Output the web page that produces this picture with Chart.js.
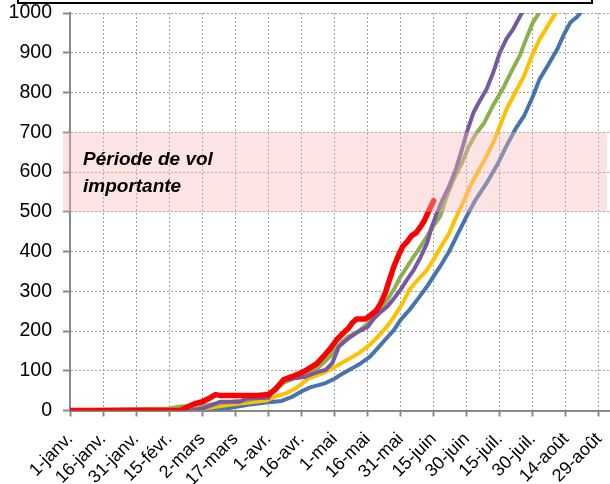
<!DOCTYPE html>
<html><head><meta charset="utf-8">
<script src="https://cdn.jsdelivr.net/npm/chart.js@4"></script>
<style>html,body{margin:0;padding:0;background:#fff}</style>
</head><body>
<canvas id="c" width="610" height="484"></canvas>
<script>
// X axis: day of year (0 = 1-janv.)
const tickDays = [0,15,30,45,60,75,90,105,120,135,150,165,180,195,210,225,240];
const tickLabels = ['1-janv.','16-janv.','31-janv.','15-févr.','2-mars','17-mars','1-avr.','16-avr.','1-mai','16-mai','31-mai','15-juin','30-juin','15-juil.','30-juil.','14-août','29-août'];
const yTicks = [0,100,200,300,400,500,600,700,800,900,1000];

// Band "Période de vol importante"
const bandFrom = 500, bandTo = 700;
const bandText = ['Période de vol', 'importante'];

// Series (day, cumulative value)
const redDays = [0,50,53,57,60,63,66,68,75,85,90,93,97,101,105,108,112,115,118,121,124,126,128,130,134,136,139,141,143,145,147,149,151,153,155,157,159,161,163,165];
const redVals = [0,0,8,18,22,30,40,38,38,38,40,52,78,86,95,104,118,136,155,178,195,205,220,230,230,238,252,270,295,330,363,390,413,425,440,447,462,480,505,528];

const purpleDays = [0,55,60,65,68,77,80,90,93,96,98,103,107,110,113,116,119,122,126,131,135,138,141,144,147,150,153,156,159,162,164,166,169,172,175,178,180,183,186,189,192,195,198,201,204,206];
const purpleVals = [0,0,5,15,22,22,30,32,56,70,77,82,85,92,98,102,119,161,180,199,210,232,248,262,282,304,330,354,385,421,460,490,530,564,606,660,699,749,780,808,850,900,935,959,990,1010];

const greenDays = [0,15,30,45,50,60,70,80,88,92,97,102,107,113,118,122,126,131,135,138,141,144,147,150,153,156,159,162,165,168,171,174,178,181,184,188,192,197,200,204,207,210,214];
const greenVals = [0,2,4,5,10,12,20,25,35,45,70,82,90,110,136,165,185,200,218,235,258,279,305,337,362,388,412,438,465,489,540,581,625,665,695,724,768,816,850,892,935,976,1010];

const yellowDays = [0,55,63,75,89,93,98,103,108,114,119,125,131,136,140,144,147,151,154,158,162,165,168,172,175,179,182,185,189,192,195,198,202,206,209,213,217,221];
const yellowVals = [0,0,7,16,25,35,43,58,80,92,106,125,144,165,188,212,236,270,304,330,354,380,409,445,484,531,570,600,640,673,715,757,800,841,885,933,970,1005];

const blueDays = [0,65,71,80,89,96,101,105,109,116,120,124,128,132,136,139,143,147,150,154,158,162,165,168,172,176,180,184,189,194,198,202,206,210,213,217,221,224,227,230,233];
const blueVals = [0,0,5,14,20,24,35,48,58,69,80,94,106,119,135,153,178,203,228,253,282,312,338,363,400,445,489,530,572,620,665,707,741,790,833,870,908,945,976,990,1010];

const pts = (d, v) => d.map((x, i) => ({x: x, y: v[i]}));

const overlay = {
  id: 'overlay',
  afterDatasetsDraw(chart) {
    const {ctx, chartArea, scales} = chart;
    const y1 = scales.y.getPixelForValue(bandTo), y2 = scales.y.getPixelForValue(bandFrom);
    ctx.save();
    ctx.fillStyle = 'rgba(250,185,185,0.38)';
    ctx.fillRect(chartArea.left - 7, y1, chartArea.right - 3 - (chartArea.left - 7), y2 - y1);
    ctx.fillStyle = '#000';
    ctx.font = 'italic bold 19px "Liberation Sans"';
    ctx.textBaseline = 'alphabetic';
    ctx.fillText(bandText[0], 83, 165);
    ctx.fillText(bandText[1], 83, 192);
    ctx.restore();
  },
  afterDraw(chart) {
    const ctx = chart.ctx;
    ctx.save();
    ctx.strokeStyle = '#000';
    ctx.lineWidth = 2;
    ctx.strokeRect(18, -20, 574, 23);
    ctx.restore();
  }
};

const gridCommon = {color: '#a0a0a0', lineWidth: 1, tickColor: '#8a8a8a', tickWidth: 2};
const borderCommon = {color: '#8a8a8a', width: 2, dash: [2, 2]};

new Chart(document.getElementById('c'), {
  type: 'line',
  data: {
    datasets: [
      {data: pts(redDays, redVals), borderColor: '#FF0000', borderWidth: 5.5},
      {data: pts(purpleDays, purpleVals), borderColor: '#7659A0', borderWidth: 4},
      {data: pts(greenDays, greenVals), borderColor: '#8DB04F', borderWidth: 4},
      {data: pts(yellowDays, yellowVals), borderColor: '#FFC000', borderWidth: 4},
      {data: pts(blueDays, blueVals), borderColor: '#4674AE', borderWidth: 4}
    ]
  },
  options: {
    responsive: false,
    animation: false,
    layout: {padding: {top: 13, left: 0, right: 0, bottom: 0}},
    plugins: {legend: {display: false}, tooltip: {enabled: false}},
    elements: {
      point: {radius: 0},
      line: {tension: 0, borderJoinStyle: 'round', borderCapStyle: 'round', fill: false}
    },
    scales: {
      x: {
        type: 'linear', min: 0, max: 245,
        afterBuildTicks: s => { s.ticks = tickDays.map(v => ({value: v})); },
        afterFit: s => { s.height = 73.5; s.paddingLeft = 0; s.paddingRight = 0; },
        ticks: {
          autoSkip: false, maxRotation: 45, minRotation: 45, padding: 12,
          color: '#000', font: {family: '"Liberation Sans", Arial', size: 18},
          callback: (v, i) => tickLabels[i]
        },
        grid: Object.assign({tickLength: 6}, gridCommon),
        border: borderCommon
      },
      y: {
        min: 0, max: 1000,
        afterBuildTicks: s => { s.ticks = yTicks.map(v => ({value: v})); },
        afterFit: s => { s.width = 70; s.paddingTop = 0; s.paddingBottom = 0; },
        ticks: {color: '#000', font: {family: '"Liberation Sans", Arial', size: 19.5}, padding: 11,
          callback: v => String(v)},
        grid: Object.assign({tickLength: 7}, gridCommon),
        border: borderCommon
      }
    }
  },
  plugins: [overlay]
});
</script>
</body></html>
